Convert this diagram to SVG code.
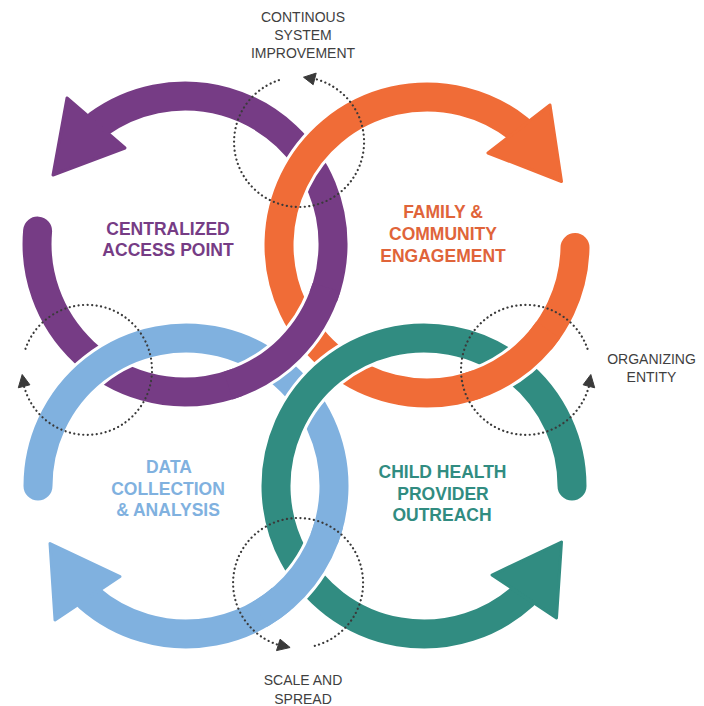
<svg xmlns="http://www.w3.org/2000/svg" width="704" height="706" viewBox="0 0 704 706">
<defs>
<style>
.halo{fill:none;stroke:#ffffff;stroke-width:35;stroke-linecap:round}
.haloB{fill:none;stroke:#ffffff;stroke-width:35;stroke-linecap:butt}
.band{fill:none;stroke-width:29;stroke-linecap:round}
.bandB{fill:none;stroke-width:29;stroke-linecap:butt}
.head{stroke-width:3;stroke-linejoin:round}
.purple{stroke:#763C85}
.orange{stroke:#F06C37}
.blue{stroke:#80B1DF}
.teal{stroke:#318C81}
.fp{fill:#763C85}
.fo{fill:#F06C37}
.fb{fill:#80B1DF}
.ft{fill:#318C81}
.lbl{font-family:"Liberation Sans",Arial,sans-serif;font-weight:bold;font-size:17.5px;text-anchor:middle}
.dots{fill:none;stroke:#3a3a3a;stroke-width:2.2;stroke-linecap:round;stroke-dasharray:0.1 4.4}
.dhead{fill:#3a3a3a;stroke:#3a3a3a;stroke-width:1;stroke-linejoin:round}
.small{font-family:"Liberation Sans",Arial,sans-serif;font-size:14px;fill:#3f3f3f;text-anchor:middle}
</style>
</defs>
<rect width="704" height="706" fill="#ffffff"/>

<g id="node-centralized">
<path class="halo" d="M 37.6 231.1 A 148 148 0 1 0 98.0 124.3"/>
<path class="band purple" d="M 37.6 231.1 A 148 148 0 1 0 98.0 124.3"/>
<polygon class="head fp purple" points="67,98 125,148 53,175"/>
<text class="lbl" fill="#763C85"><tspan x="168" y="235">CENTRALIZED</tspan><tspan x="168" y="256">ACCESS POINT</tspan></text>
</g>

<g id="node-family">
<path class="halo" d="M 575 247.6 A 148 148 0 1 1 518.9 129"/>
<path class="band orange" d="M 575 247.6 A 148 148 0 1 1 518.9 129"/>
<polygon class="head fo orange" points="550,105 488,153 561.5,181.5"/>
<text class="lbl" fill="#E0643A"><tspan x="443" y="218">FAMILY &amp;</tspan><tspan x="443" y="240">COMMUNITY</tspan><tspan x="443" y="261.5">ENGAGEMENT</tspan></text>
</g>

<g id="node-data">
<path class="halo" d="M 38 486 A 148 148 0 1 1 88.9 597.7"/>
<path class="band blue" d="M 38 486 A 148 148 0 1 1 88.9 597.7"/>
<polygon class="head fb blue" points="50,543.5 120,576.5 55,620"/>
<text class="lbl" fill="#80B1DF"><tspan x="169" y="473">DATA</tspan><tspan x="168" y="495">COLLECTION</tspan><tspan x="168" y="516">&amp; ANALYSIS</tspan></text>
</g>

<g id="node-child">
<path class="halo" d="M 572 486 A 148 148 0 1 0 523.6 595.5"/>
<path class="band teal" d="M 572 486 A 148 148 0 1 0 523.6 595.5"/>
<polygon class="head ft teal" points="561.5,542 556.5,618 492,575"/>
<text class="lbl" fill="#318C81"><tspan x="442.5" y="478">CHILD HEALTH</tspan><tspan x="443" y="500">PROVIDER</tspan><tspan x="442" y="521">OUTREACH</tspan></text>
</g>

<g id="weave">
<path class="haloB" d="M 323.17 297.04 A 148 148 0 0 1 238.04 382.17"/>
<path class="bandB purple" d="M 326.53 287.27 A 148 148 0 0 1 228.27 385.53"/>
<path class="haloB" d="M 540.37 340.13 A 148 148 0 0 1 477.62 384.07"/>
<path class="bandB orange" d="M 548.24 329.89 A 148 148 0 0 1 465.30 387.96"/>
<path class="haloB" d="M 324.17 539.04 A 148 148 0 0 1 281.13 599.37"/>
<path class="bandB blue" d="M 328.96 524.30 A 148 148 0 0 1 260 614.17"/>
</g>

<g id="connectors">
<g id="loop-improvement">
<path class="dots" d="M 278.9 80.2 A 65 65 0 1 0 314.7 78.9"/>
<polygon class="dhead" points="303.5,77.2 316.2,73.1 313.2,84.7"/>
<text class="small"><tspan x="303" y="22">CONTINOUS</tspan><tspan x="303" y="40">SYSTEM</tspan><tspan x="303" y="58">IMPROVEMENT</tspan></text>
</g>
<g id="loop-left">
<path class="dots" d="M 25.5 348.8 A 65 65 0 1 1 24.1 386.3"/>
<polygon class="dhead" points="22.2,374.5 18.3,387.8 29.9,384.8"/>
</g>
<g id="loop-organizing">
<path class="dots" d="M 587.5 348.8 A 65 65 0 1 0 588.9 386.3"/>
<polygon class="dhead" points="590.8,374.5 594.7,387.8 583.1,384.8"/>
<text class="small"><tspan x="651.5" y="364">ORGANIZING</tspan><tspan x="651.5" y="382">ENTITY</tspan></text>
</g>
<g id="loop-scale">
<path class="dots" d="M 314.8 645.8 A 65 65 0 1 0 278.3 644.9"/>
<polygon class="dhead" points="290.1,647.5 276.5,650.6 280.1,639.2"/>
<text class="small"><tspan x="303" y="685">SCALE AND</tspan><tspan x="303" y="704">SPREAD</tspan></text>
</g>
</g>
</svg>
